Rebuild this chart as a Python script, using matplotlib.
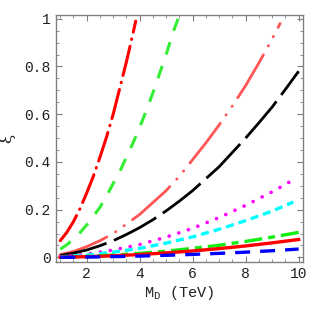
import matplotlib
matplotlib.use("Agg")
import matplotlib.pyplot as plt
from matplotlib.ticker import MultipleLocator, FixedLocator

plt.rcParams['font.family'] = ['Liberation Mono', 'DejaVu Sans']
plt.rcParams['mathtext.default'] = 'regular'
plt.rcParams['lines.scale_dashes'] = False

# ---- data ----
x_a = [1.0, 1.25, 1.5, 1.75, 2.0, 2.25, 2.5, 2.75, 3.0, 3.25, 3.5, 3.75, 3.85]
red_dashdot = [0.07, 0.105, 0.15, 0.205, 0.27, 0.34, 0.42, 0.505, 0.60, 0.71, 0.82, 0.94, 0.99]

x_b = [1.0, 1.25, 1.5, 1.75, 2.0, 2.25, 2.5, 2.75, 3.0, 3.25, 3.5, 3.75, 4.0,
       4.25, 4.5, 4.75, 5.0, 5.25, 5.45]
green_dash = [0.034, 0.053, 0.077, 0.104, 0.136, 0.172, 0.21, 0.257, 0.31, 0.36,
              0.42, 0.48, 0.545, 0.615, 0.69, 0.77, 0.85, 0.94, 1.0]

x_c = [1.0, 1.5, 2.0, 2.5, 3.0, 3.5, 4.0, 4.5, 5.0, 5.5, 6.0, 6.5, 7.0, 7.5, 8.0, 8.5, 9.0, 9.3]
salmon_dashdotdot = [0.012, 0.025, 0.045, 0.07, 0.10, 0.14, 0.18, 0.23, 0.28, 0.34,
                     0.41, 0.48, 0.555, 0.635, 0.72, 0.815, 0.915, 0.98]

x_d = [1.0, 1.5, 2.0, 2.5, 3.0, 3.5, 4.0, 4.5, 5.0, 5.5, 6.0, 6.5, 7.0, 7.5, 8.0, 8.5, 9.0, 9.5, 10.0]
black_longdash = [0.008, 0.018, 0.031, 0.049, 0.07, 0.096, 0.125, 0.158, 0.195, 0.236,
                  0.28, 0.33, 0.38, 0.44, 0.50, 0.564, 0.63, 0.704, 0.78]

x_e = [1, 2, 3, 4, 5, 6, 7, 8, 9, 9.8]
magenta_dot = [0.0034, 0.0136, 0.031, 0.054, 0.085, 0.122, 0.167, 0.218, 0.275, 0.325]
cyan_dash = [0.0024, 0.0096, 0.022, 0.038, 0.06, 0.086, 0.118, 0.154, 0.194, 0.232]

x_f = [1, 2, 3, 4, 5, 6, 7, 8, 9, 10]
green_low = [0.001, 0.0042, 0.0095, 0.017, 0.026, 0.038, 0.051, 0.067, 0.085, 0.105]
red_solid = [0.00075, 0.003, 0.0068, 0.012, 0.019, 0.027, 0.037, 0.048, 0.061, 0.075]
blue_dash = [0.00035, 0.0014, 0.0032, 0.0056, 0.0088, 0.0126, 0.017, 0.022, 0.028, 0.035]

x_ticks = [2, 4, 6, 8, 10]
y_ticks = [0, 0.2, 0.4, 0.6, 0.8, 1]
y_ticklabels = ['0', '0.2', '0.4', '0.6', '0.8', '1']

PX = 72 / 100.0  # points per pixel


def px(seq):
    return [v * PX for v in seq]


fig = plt.figure(figsize=(3.11, 3.11), dpi=100)
ax = fig.add_axes([0.180, 0.1585, 0.793, 0.7935])

lw = 2.0
ax.plot(x_a, red_dashdot, color='#ff0000', lw=lw * 1.1, dashes=px([30, 7, 0.5, 7]),
        dash_capstyle='round')
ax.plot(x_b, green_dash, color='#33ee33', lw=lw * 1.1, dashes=px([13, 12]))
ax.plot(x_c, salmon_dashdotdot, color='#ff5555', lw=lw,
        dashes=px([50, 10, 0.5, 10, 0.5, 10]), dash_capstyle='round')
ax.plot(x_d, black_longdash, color='#000000', lw=lw, dashes=px([48, 8]))
ax.plot(x_e, magenta_dot, color='#ff00ff', lw=lw * 1.3, dashes=px([0.1, 10]),
        dash_capstyle='round')
ax.plot(x_e, cyan_dash, color='#00ffff', lw=lw * 1.2, dashes=px([8, 5]))
ax.plot(x_f, green_low, color='#11ee11', lw=lw * 1.2, dashes=px([18, 6, 7, 6]))
ax.plot(x_f, red_solid, color='#ff0000', lw=lw * 1.2)
ax.plot(x_f, blue_dash, color='#0000ff', lw=lw * 1.2, dashes=px([15, 10]))

ax.set_xlim(0.84, 10.15)
ax.set_ylim(-0.018, 1.016)

ax.xaxis.set_major_locator(FixedLocator(x_ticks))
ax.xaxis.set_minor_locator(MultipleLocator(0.5))
ax.yaxis.set_major_locator(FixedLocator(y_ticks))
ax.set_yticklabels(y_ticklabels)
ax.yaxis.set_minor_locator(MultipleLocator(0.05))

for s in ax.spines.values():
    s.set_color('#808080')
    s.set_linewidth(1.0)

ax.tick_params(which='both', direction='in', top=True, right=True,
               color='#808080', labelsize=10.5, labelcolor='#222222', pad=4)
ax.tick_params(which='major', length=4, width=0.8)
ax.tick_params(which='minor', length=2, width=0.6)

ax.set_xlabel(r'M$_{D}$ (TeV)', fontsize=11, color='#222222', labelpad=2)
ax.set_ylabel('ξ', fontsize=12, color='#222222', family=['DejaVu Serif'], labelpad=6)

fig.savefig('out.png', dpi=100)
